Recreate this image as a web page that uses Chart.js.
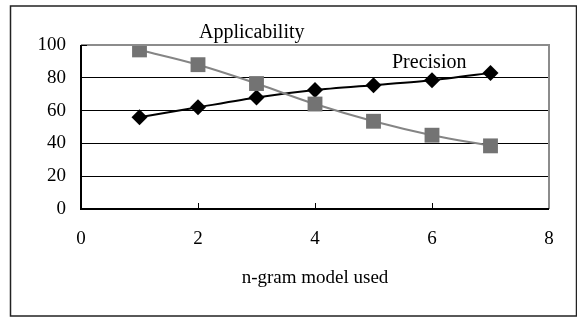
<!DOCTYPE html>
<html>
<head>
<meta charset="utf-8">
<style>
  html, body { margin: 0; padding: 0; background: #fff; }
  #wrap { position: relative; width: 577px; height: 317px; }
</style>
</head>
<body>
<div id="wrap">
  <canvas id="ngramChart" width="577" height="317"></canvas>
</div>

<script src="https://cdn.jsdelivr.net/npm/chart.js"></script>

<script>
    // values
    const nValues = [1, 2, 3, 4, 5, 6, 7];
    const precision = [56, 62, 68, 72.5, 75.5, 78.5, 83];
    const applicability = [97, 88, 76.5, 64, 53.5, 45, 38.5];
    const yTicks = [0, 20, 40, 60, 80, 100];
    const xTicks = [0, 2, 4, 6, 8];

    const FONT = 'Liberation Serif';

    const toPoints = (ys) => nValues.map((x, i) => ({ x: x, y: ys[i] }));

    // outer frame, plot frame, inner tick marks and the two series captions
    const frame = {
        id: 'frame',
        beforeDraw(chart) {
            const c = chart.ctx;
            c.save();
            c.strokeStyle = '#222';
            c.lineWidth = 1.5;
            c.strokeRect(10.5, 6, 566, 310);
            c.restore();
        },
        afterDatasetsDraw(chart) {
            const c = chart.ctx;
            const a = chart.chartArea;
            const xs = chart.scales.x;
            c.save();
            c.lineWidth = 2;
            c.strokeStyle = '#8c8c8c';
            c.beginPath();
            c.moveTo(a.left, a.top);
            c.lineTo(a.right, a.top);
            c.lineTo(a.right, a.bottom);
            c.stroke();
            c.strokeStyle = '#000';
            c.beginPath();
            c.moveTo(a.left, a.top);
            c.lineTo(a.left, a.bottom);
            c.lineTo(a.right, a.bottom);
            c.stroke();
            c.lineWidth = 1;
            xTicks.slice(1, -1).forEach(v => {
                const px = Math.round(xs.getPixelForValue(v)) + 0.5;
                c.beginPath();
                c.moveTo(px, a.bottom);
                c.lineTo(px, a.bottom - 6);
                c.stroke();
            });
            c.beginPath();
            c.moveTo(a.left, a.top + 0.5);
            c.lineTo(a.left + 6, a.top + 0.5);
            c.stroke();

            c.fillStyle = '#000';
            c.font = '20px "' + FONT + '"';
            c.textBaseline = 'alphabetic';
            c.textAlign = 'left';
            c.fillText('Applicability', 199, 38);
            c.fillText('Precision', 392, 68);
            c.restore();
        }
    };

    const ctx = document.getElementById('ngramChart').getContext('2d');
    const lineChart = new Chart(ctx, {
        type: 'line',
        data: {
            datasets: [
                {
                    label: 'Applicability',
                    data: toPoints(applicability),
                    borderColor: '#858585',
                    backgroundColor: '#737373',
                    borderWidth: 2,
                    pointStyle: 'rect',
                    pointRadius: 10.5,
                    pointBorderWidth: 0,
                    tension: 0.4,
                    fill: false,
                },
                {
                    label: 'Precision',
                    data: toPoints(precision),
                    borderColor: '#000',
                    backgroundColor: '#000',
                    borderWidth: 2,
                    pointStyle: 'rectRot',
                    pointRadius: 8,
                    pointBorderWidth: 0,
                    tension: 0.2,
                    fill: false,
                },
            ],
        },
        options: {
            responsive: false,
            animation: false,
            layout: { padding: { left: 0, top: 45, right: 28, bottom: 0 } },
            plugins: {
                legend: { display: false },
                tooltip: { enabled: false },
            },
            scales: {
                x: {
                    type: 'linear',
                    min: 0,
                    max: 8,
                    afterBuildTicks: (s) => { s.ticks = xTicks.map(v => ({ value: v })); },
                    afterFit: (s) => { s.height = 108; },
                    grid: { display: false, drawTicks: false },
                    border: { display: false },
                    ticks: {
                        color: '#000',
                        padding: 19,
                        maxRotation: 0,
                        font: { family: FONT, size: 19 },
                    },
                    title: {
                        display: true,
                        text: 'n-gram model used',
                        color: '#000',
                        padding: { top: 28, bottom: 28 },
                        font: { family: FONT, size: 19 },
                    },
                },
                y: {
                    min: 0,
                    max: 100,
                    afterBuildTicks: (s) => { s.ticks = yTicks.map(v => ({ value: v })); },
                    afterFit: (s) => { s.width = 81; },
                    grid: { color: '#000', lineWidth: 1, drawTicks: false },
                    border: { display: false },
                    ticks: {
                        color: '#000',
                        padding: 15,
                        font: { family: FONT, size: 19 },
                    },
                },
            },
        },
        plugins: [frame],
    });
</script>
</body>
</html>
